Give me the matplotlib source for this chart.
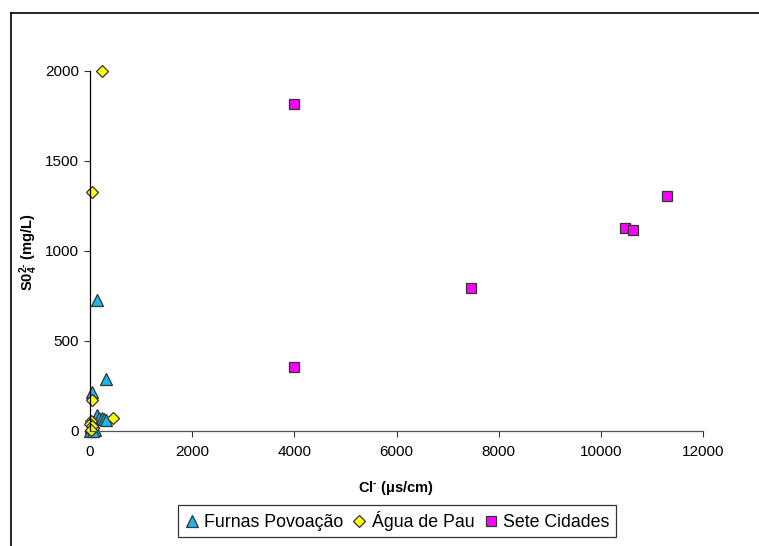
import matplotlib
matplotlib.use("Agg")
import matplotlib.pyplot as plt
from matplotlib.lines import Line2D

plt.rcParams['font.family'] = ['Liberation Sans', 'DejaVu Sans']
plt.rcParams['mathtext.fontset'] = 'custom'
plt.rcParams['mathtext.rm'] = 'Liberation Sans:bold'
plt.rcParams['mathtext.it'] = 'Liberation Sans:bold'
plt.rcParams['mathtext.bf'] = 'Liberation Sans:bold'

# Data
furnas_x = [137, 307, 30, 130, 180, 230, 270, 320, 60, 20, 10, 40, 80, 100, 5, 15, 50]
furnas_y = [728, 290, 218, 89, 75, 70, 65, 60, 50, 30, 10, 5, 15, 8, 2, 20, 0]
agua_x = [235, 40, 40, 456, 20, 65, 0, 30, 10]
agua_y = [2000, 1330, 170, 74, 55, 15, 40, 30, 5]
sete_x = [4000, 4000, 7465, 10480, 10630, 11300]
sete_y = [1815, 355, 796, 1128, 1118, 1307]

x_ticks = [0, 2000, 4000, 6000, 8000, 10000, 12000]
y_ticks = [0, 500, 1000, 1500, 2000]

W, H = 759, 546
fig = plt.figure(figsize=(W / 100, H / 100), dpi=100)
ax = fig.add_axes([90 / W, 1 - 431 / H, (703 - 90) / W, (431 - 71) / H])

edge = '#333333'
ax.plot(furnas_x, furnas_y, linestyle='none', marker='^', markersize=9,
        markerfacecolor='#1EB6E8', markeredgecolor=edge, markeredgewidth=0.9,
        label='Furnas Povoação', clip_on=False)
ax.plot(agua_x, agua_y, linestyle='none', marker='D', markersize=6.3,
        markerfacecolor='#FFFF00', markeredgecolor=edge, markeredgewidth=0.9,
        label='Água de Pau', clip_on=False)
ax.plot(sete_x, sete_y, linestyle='none', marker='s', markersize=7.8,
        markerfacecolor='#FF00FF', markeredgecolor=edge, markeredgewidth=0.9,
        label='Sete Cidades', clip_on=False)

ax.set_xlim(0, 12000)
ax.set_ylim(0, 2000)
ax.set_xticks(x_ticks)
ax.set_yticks(y_ticks)
ax.tick_params(axis='both', direction='out', length=4, width=0.8,
               labelsize=11, color='#333333')
ax.tick_params(axis='x', pad=6)
ax.tick_params(axis='y', pad=4)

for s in ['top', 'right']:
    ax.spines[s].set_visible(False)
ax.spines['left'].set_color('black')
ax.spines['bottom'].set_color('#555555')
ax.spines['left'].set_linewidth(0.9)
ax.spines['bottom'].set_linewidth(0.9)

ax.set_xlabel(r'Cl$^{\text{-}}$ ($\mu$s/cm)', fontsize=10.5, fontweight='bold')
ax.set_ylabel(r'S0$_{4}^{2\text{-}}$ (mg/L)', fontsize=10.5, fontweight='bold')
ax.xaxis.set_label_coords((395.5 - 90) / (703 - 90), -(479 - 431) / (431 - 71))
ax.yaxis.set_label_coords(-(90 - 40) / (703 - 90), (431 - 252) / (431 - 71))

leg = fig.legend(loc='center', bbox_to_anchor=(397 / W, 1 - 521 / H), ncol=3,
                 fontsize=12.8, frameon=True, fancybox=False, edgecolor='black',
                 handlelength=0.8, handletextpad=0.3, columnspacing=0.5,
                 borderpad=0.35, borderaxespad=0)
leg.get_frame().set_linewidth(0.9)

# Outer chart frame (top and left visible)
fig.add_artist(Line2D([11 / W, 1.0], [1 - 13 / H, 1 - 13 / H], color='black',
                      linewidth=1.2, transform=fig.transFigure))
fig.add_artist(Line2D([11 / W, 11 / W], [1 - 13 / H, 0.0], color='black',
                      linewidth=1.2, transform=fig.transFigure))

fig.savefig('out.png', dpi=100)
